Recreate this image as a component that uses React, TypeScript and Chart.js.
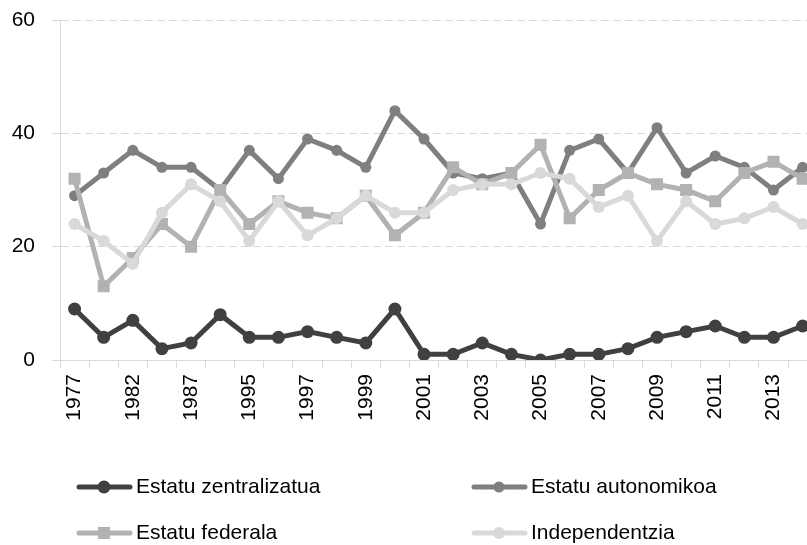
import React, { useEffect, useRef } from 'react';
import { Chart, registerables } from 'chart.js';

Chart.register(...registerables);

const years = ['1977', '1979', '1982', '1986', '1987', '1993', '1995', '1996', '1997', '1998', '1999', '2000', '2001', '2002', '2003', '2004', '2005', '2006', '2007', '2008', '2009', '2010', '2011', '2012', '2013', '2014'];
const zentralizatua = [9, 4, 7, 2, 3, 8, 4, 4, 5, 4, 3, 9, 1, 1, 3, 1, 0, 1, 1, 2, 4, 5, 6, 4, 4, 6];
const autonomikoa = [29, 33, 37, 34, 34, 30, 37, 32, 39, 37, 34, 44, 39, 33, 32, 33, 24, 37, 39, 33, 41, 33, 36, 34, 30, 34];
const federala = [32, 13, 18, 24, 20, 30, 24, 28, 26, 25, 29, 22, 26, 34, 31, 33, 38, 25, 30, 33, 31, 30, 28, 33, 35, 32];
const independentzia = [24, 21, 17, 26, 31, 28, 21, 28, 22, 25, 29, 26, 26, 30, 31, 31, 33, 32, 27, 29, 21, 28, 24, 25, 27, 24];
const yTicks = [0, 20, 40, 60];

const FONT = '"Liberation Sans", Arial, sans-serif';

const legendSlots = [
  { x: 77, y: 487 },
  { x: 472, y: 487 },
  { x: 77, y: 533 },
  { x: 472, y: 533 },
];

const legendPlugin = {
  id: 'customLegend',
  afterDraw(chart: any) {
    const ctx = chart.ctx as CanvasRenderingContext2D;
    chart.data.datasets.forEach((ds: any, i: number) => {
      const slot = legendSlots[i];
      if (!slot) return;
      ctx.save();
      ctx.strokeStyle = ds.borderColor;
      ctx.lineWidth = 5;
      ctx.lineCap = 'round';
      ctx.beginPath();
      ctx.moveTo(slot.x + 2, slot.y);
      ctx.lineTo(slot.x + 53, slot.y);
      ctx.stroke();
      ctx.fillStyle = ds.backgroundColor;
      const cx = slot.x + 27;
      if (ds.pointStyle === 'rect') {
        const s = ds.pointRadius * Math.SQRT1_2;
        ctx.fillRect(cx - s, slot.y - s, 2 * s, 2 * s);
      } else {
        ctx.beginPath();
        ctx.arc(cx, slot.y, ds.pointRadius, 0, Math.PI * 2);
        ctx.fill();
      }
      ctx.fillStyle = '#000';
      ctx.font = `21px ${FONT}`;
      ctx.textBaseline = 'middle';
      ctx.textAlign = 'left';
      ctx.fillText(ds.label, slot.x + 59, slot.y);
      ctx.restore();
    });
  },
};

export default function App() {
  const ref = useRef<HTMLCanvasElement>(null);

  useEffect(() => {
    if (!ref.current) return;
    const mk = (label: string, data: number[], color: string, style: string, r: number, order: number) => ({
      label,
      data,
      borderColor: color,
      backgroundColor: color,
      pointBackgroundColor: color,
      pointBorderColor: color,
      borderWidth: 5,
      pointStyle: style,
      pointRadius: r,
      pointBorderWidth: 0,
      tension: 0,
      order,
    });
    const chart = new Chart(ref.current, {
      type: 'line',
      data: {
        labels: years,
        datasets: [
          mk('Estatu zentralizatua', zentralizatua, '#404040', 'circle', 6.5, 3),
          mk('Estatu autonomikoa', autonomikoa, '#7f7f7f', 'circle', 5.5, 2),
          mk('Estatu federala', federala, '#b2b2b2', 'rect', 8.5, 1),
          mk('Independentzia', independentzia, '#d9d9d9', 'circle', 6, 0),
        ] as any,
      },
      options: {
        animation: false,
        responsive: false,
        layout: { padding: { top: 20, bottom: 125, left: 0, right: 2 } },
        plugins: { legend: { display: false }, tooltip: { enabled: false } },
        scales: {
          x: {
            offset: true,
            grid: { display: true, drawOnChartArea: false, drawTicks: true, tickLength: 8, offset: true, color: '#d9d9d9' },
            border: { display: true, color: '#d9d9d9', width: 1 },
            ticks: {
              autoSkip: false,
              minRotation: 90,
              maxRotation: 90,
              padding: 6,
              color: '#000',
              font: { family: FONT, size: 21 },
              callback: (_v: any, i: number) => (i % 2 === 0 ? years[i] : ''),
            },
            afterFit: (s: any) => { s.height = 60; },
          },
          y: {
            min: yTicks[0],
            max: yTicks[yTicks.length - 1],
            grid: { color: '#d9d9d9', tickLength: 8, drawTicks: true },
            border: { display: true, color: '#d9d9d9', dash: [8, 4] },
            ticks: {
              stepSize: 20,
              padding: 17,
              color: '#000',
              font: { family: FONT, size: 21 },
            },
            afterFit: (s: any) => {
              s.width = 60;
              s.paddingTop = 10;
              s.paddingBottom = 10;
            },
          },
        },
      } as any,
      plugins: [legendPlugin],
    });
    return () => chart.destroy();
  }, []);

  return (
    <div style={{ position: 'absolute', left: 0, top: 0, width: 807, height: 545, overflow: 'hidden', background: '#fff' }}>
      <canvas ref={ref} width={834} height={545} style={{ width: 834, height: 545, display: 'block' }} />
    </div>
  );
}
